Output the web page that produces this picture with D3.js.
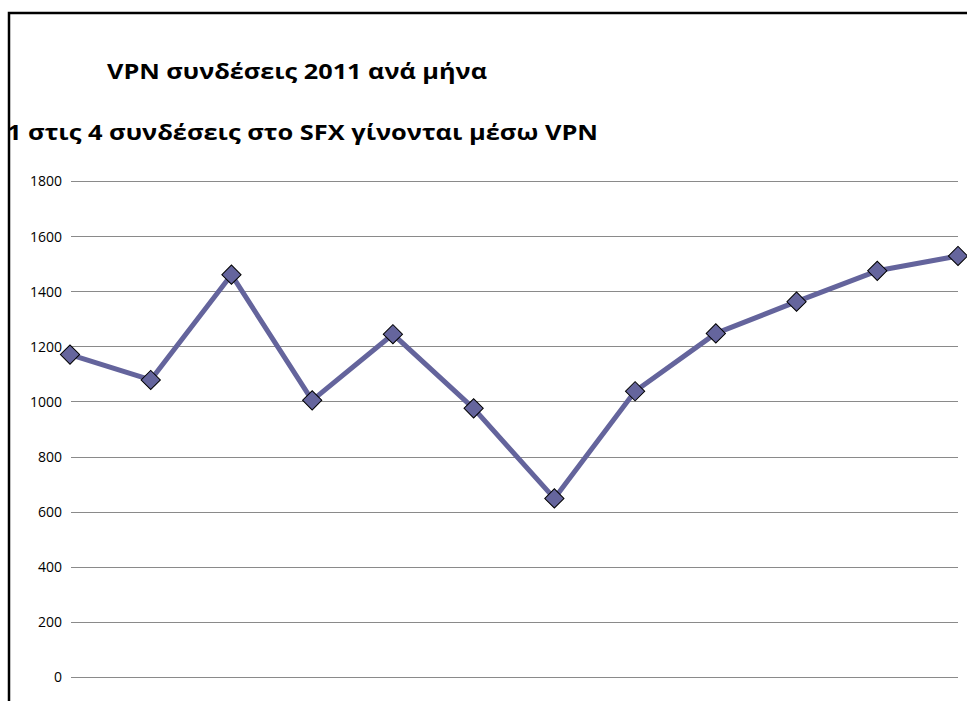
<!DOCTYPE html>
<html>
<head>
<meta charset="utf-8">
<script src="https://cdn.jsdelivr.net/npm/d3@7"></script>
<style>
  body { margin: 0; background: #fff; }
  svg { display: block; }
</style>
</head>
<body>
<svg id="chart" width="967" height="701"></svg>
<script>
const months = ["Ιαν", "Φεβ", "Μαρ", "Απρ", "Μαϊ", "Ιουν", "Ιουλ", "Αυγ", "Σεπ", "Οκτ", "Νοε", "Δεκ"];
const connections = [1170, 1078, 1460, 1004, 1244, 975, 648, 1037, 1247, 1362, 1474, 1528];
const yTicks = [0, 200, 400, 600, 800, 1000, 1200, 1400, 1600, 1800];
const title = "VPN συνδέσεις 2011 ανά μήνα";
const subtitle = "1 στις 4 συνδέσεις στο SFX γίνονται μέσω VPN";

const svg = d3.select("#chart");
const font = "'Open Sans', 'DejaVu Sans', sans-serif";

// outer frame (only top and left edges show in the window)
svg.append("path")
  .attr("d", "M9,701 V13 H967")
  .attr("fill", "none")
  .attr("stroke", "#000")
  .attr("stroke-width", 2.5);

svg.append("text")
  .attr("x", 107).attr("y", 79)
  .attr("textLength", 380).attr("lengthAdjust", "spacingAndGlyphs")
  .style("font-family", font).style("font-weight", "bold").style("font-size", "22px")
  .text(title);

svg.append("text")
  .attr("x", 7).attr("y", 140)
  .attr("textLength", 591).attr("lengthAdjust", "spacingAndGlyphs")
  .style("font-family", font).style("font-weight", "bold").style("font-size", "22px")
  .text(subtitle);

const x = d3.scalePoint().domain(months).range([70, 958]);
const y = d3.scaleLinear().domain([0, 1800]).range([677, 181]);

const grid = svg.append("g");
grid.selectAll("line")
  .data(yTicks)
  .enter()
  .append("line")
  .attr("x1", 71).attr("x2", 958)
  .attr("y1", d => Math.round(y(d)) + 0.5)
  .attr("y2", d => Math.round(y(d)) + 0.5)
  .attr("stroke", "#8a8a8a")
  .attr("stroke-width", 1);

const yAxis = svg.append("g")
  .attr("transform", "translate(62,0)")
  .call(d3.axisLeft(y).tickValues(yTicks).tickFormat(d3.format("d")).tickSize(0).tickPadding(0));
yAxis.select(".domain").remove();
yAxis.selectAll("text")
  .style("font-family", font).style("font-size", "14px").attr("fill", "#000")
  .attr("dy", "0.35em");

const line = d3.line()
  .x((d, i) => x(months[i]))
  .y(d => y(d));

svg.append("path")
  .datum(connections)
  .attr("d", line)
  .attr("fill", "none")
  .attr("stroke", "#64649c")
  .attr("stroke-width", 5)
  .attr("stroke-linejoin", "round");

svg.append("g")
  .selectAll("path")
  .data(connections)
  .enter()
  .append("path")
  .attr("d", d3.symbol(d3.symbolSquare, 185))
  .attr("transform", (d, i) => "translate(" + x(months[i]) + "," + y(d) + ")rotate(45)")
  .attr("fill", "#65659d")
  .attr("stroke", "#000")
  .attr("stroke-width", 1);
</script>
</body>
</html>
